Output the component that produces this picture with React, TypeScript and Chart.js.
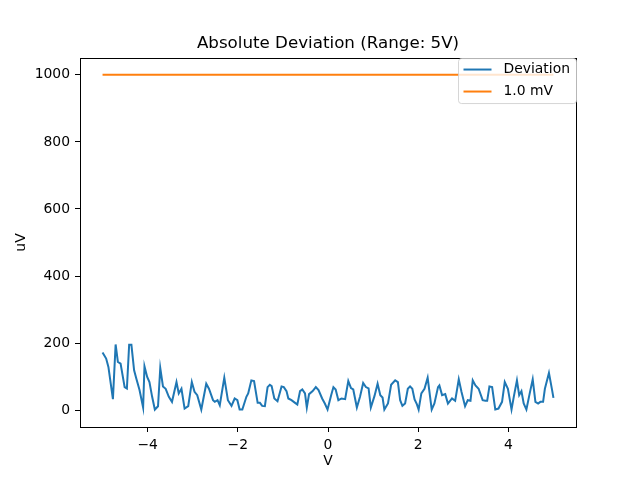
import React, { useEffect, useRef } from "react";
import { Chart, registerables } from "chart.js";

Chart.register(...registerables);

// Deviation curve (V -> uV)
const devX = [
  -5.0, -4.92, -4.87, -4.77, -4.71, -4.66, -4.6, -4.51, -4.46, -4.41, -4.36, -4.3, -4.25, -4.18,
  -4.1, -4.07, -4.01, -3.96, -3.9, -3.84, -3.77, -3.72, -3.66, -3.6, -3.53, -3.46, -3.36, -3.31,
  -3.25, -3.18, -3.1, -3.02, -2.96, -2.9, -2.81, -2.7, -2.64, -2.55, -2.51, -2.45, -2.4, -2.3,
  -2.22, -2.14, -2.07, -2.01, -1.96, -1.9, -1.81, -1.77, -1.7, -1.64, -1.56, -1.51, -1.46, -1.4,
  -1.34, -1.29, -1.25, -1.19, -1.12, -1.03, -0.98, -0.92, -0.88, -0.81, -0.73, -0.68, -0.62,
  -0.57, -0.51, -0.47, -0.42, -0.34, -0.27, -0.21, -0.13, -0.07, -0.01, 0.07, 0.12, 0.17, 0.23,
  0.3, 0.38, 0.45, 0.51, 0.56, 0.64, 0.71, 0.78, 0.84, 0.9, 0.95, 1.03, 1.1, 1.16, 1.21, 1.25,
  1.33, 1.4, 1.49, 1.55, 1.6, 1.65, 1.71, 1.77, 1.82, 1.87, 1.92, 1.97, 2.01, 2.07, 2.14, 2.21,
  2.25, 2.3, 2.36, 2.44, 2.47, 2.53, 2.6, 2.66, 2.75, 2.82, 2.9, 2.96, 3.04, 3.1, 3.16, 3.21,
  3.27, 3.34, 3.43, 3.49, 3.53, 3.58, 3.64, 3.71, 3.78, 3.86, 3.92, 3.99, 4.07, 4.12, 4.19,
  4.24, 4.29, 4.34, 4.4, 4.47, 4.54, 4.6, 4.66, 4.71, 4.77, 4.81, 4.9, 4.97, 5.0,
];
const devY = [
  172, 154, 129, 33, 196, 144, 139, 69, 65, 195, 195, 119, 94, 60,
  8, 131, 99, 84, 40, 2, 12, 126, 71, 64, 40, 25, 84, 50,
  64, 5, 12, 84, 55, 45, 2, 79, 64, 30, 25, 30, 15, 97,
  30, 13, 35, 30, 2, 2, 40, 50, 89, 87, 22, 22, 13, 12,
  69, 76, 72, 35, 27, 71, 69, 57, 35, 30, 22, 17, 57,
  62, 50, 8, 48, 57, 69, 60, 35, 20, 2, 45, 69, 62, 30,
  35, 33, 87, 66, 62, 8, 40, 81, 69, 65, 8, 42, 79, 45, 38, 2,
  20, 76, 89, 84, 30, 13, 20, 64, 71, 64, 32, 18, 2, 50, 64, 97,
  55, 2, 20, 69, 74, 45, 48, 20, 35, 28, 92, 55, 12, 30, 28, 89,
  74, 64, 30, 28, 28, 71, 69, 2, 5, 25, 84, 64, 2, 40, 89,
  45, 57, 20, 2, 48, 92, 25, 20, 25, 25, 64, 111, 60, 37,
];

// 1.0 mV reference level
const limitX = [-5, 5];
const limitY = [1000, 1000];

const xTicks = [-4, -2, 0, 2, 4];
const yTicks = [0, 200, 400, 600, 800, 1000];

const FONT = "'DejaVu Sans', sans-serif";

// black box round the axes, like matplotlib spines
const framePlugin = {
  id: "frame",
  afterDatasetsDraw(chart: any) {
    const { ctx, chartArea } = chart;
    ctx.save();
    ctx.strokeStyle = "#000";
    ctx.lineWidth = 1;
    ctx.strokeRect(
      Math.round(chartArea.left) + 0.5,
      Math.round(chartArea.top) + 0.5,
      Math.round(chartArea.right - chartArea.left),
      Math.round(chartArea.bottom - chartArea.top)
    );
    ctx.restore();
  },
};

// legend in the upper right corner of the plot area
const legendPlugin = {
  id: "mplLegend",
  afterDraw(chart: any) {
    const { ctx, chartArea } = chart;
    const w = 118;
    const h = 45;
    const x0 = chartArea.right - w + 0.5;
    const y0 = chartArea.top + 0.5;
    ctx.save();
    ctx.beginPath();
    ctx.roundRect(x0, y0, w, h, 3);
    ctx.fillStyle = "rgba(255,255,255,0.8)";
    ctx.fill();
    ctx.strokeStyle = "rgba(204,204,204,0.8)";
    ctx.lineWidth = 1;
    ctx.stroke();
    ctx.font = `13.9px ${FONT}`;
    ctx.textBaseline = "middle";
    chart.data.datasets.forEach((ds: any, i: number) => {
      const y = y0 + 11 + i * 22;
      ctx.beginPath();
      ctx.strokeStyle = ds.borderColor;
      ctx.lineWidth = 2;
      ctx.moveTo(x0 + 5, y);
      ctx.lineTo(x0 + 33, y);
      ctx.stroke();
      ctx.fillStyle = "#000";
      ctx.fillText(ds.label, x0 + 45, y);
    });
    ctx.restore();
  },
};

const minus = (v: number) => String(v).replace("-", "\u2212");

const App: React.FC = () => {
  const canvasRef = useRef<HTMLCanvasElement>(null);
  const chartRef = useRef<Chart | null>(null);

  useEffect(() => {
    document.body.style.margin = "0";
    if (!canvasRef.current) return;
    if (chartRef.current) chartRef.current.destroy();

    chartRef.current = new Chart(canvasRef.current, {
      type: "line",
      data: {
        datasets: [
          {
            label: "Deviation",
            data: devX.map((x, i) => ({ x, y: devY[i] })),
            borderColor: "#1f77b4",
            borderWidth: 2,
            pointRadius: 0,
            tension: 0,
          },
          {
            label: "1.0 mV",
            data: limitX.map((x, i) => ({ x, y: limitY[i] })),
            borderColor: "#ff7f0e",
            borderWidth: 2,
            pointRadius: 0,
          },
        ],
      },
      options: {
        responsive: true,
        maintainAspectRatio: false,
        animation: false,
        layout: { padding: { top: 0, right: 64, bottom: 0, left: 0 } },
        plugins: {
          legend: { display: false },
          tooltip: { enabled: false },
          title: {
            display: true,
            text: "Absolute Deviation (Range: 5V)",
            fullSize: false,
            color: "#000",
            font: { family: FONT, size: 16.7, weight: "normal" },
            padding: { top: 34, bottom: 4 },
          },
        },
        scales: {
          x: {
            type: "linear",
            min: -5.5,
            max: 5.5,
            afterBuildTicks: (s: any) => {
              s.ticks = xTicks.map((v) => ({ value: v }));
            },
            afterFit: (s: any) => {
              s.height = 53;
            },
            grid: { drawOnChartArea: false, drawTicks: true, tickLength: 5, color: "#000" },
            border: { display: false },
            ticks: {
              color: "#000",
              padding: 5,
              maxRotation: 0,
              font: { family: FONT, size: 13.9 },
              callback: (v: any) => minus(v),
            },
            title: {
              display: true,
              text: "V",
              color: "#000",
              font: { family: FONT, size: 13.9 },
              padding: { top: 0, bottom: 10 },
            },
          },
          y: {
            min: -50,
            max: 1050,
            afterBuildTicks: (s: any) => {
              s.ticks = yTicks.map((v) => ({ value: v }));
            },
            afterFit: (s: any) => {
              s.width = 80;
            },
            grid: { drawOnChartArea: false, drawTicks: true, tickLength: 5, color: "#000" },
            border: { display: false },
            ticks: {
              color: "#000",
              padding: 5,
              font: { family: FONT, size: 13.9 },
              callback: (v: any) => minus(v),
            },
            title: {
              display: true,
              text: "uV",
              color: "#000",
              font: { family: FONT, size: 13.9 },
              padding: { top: 13, bottom: 0 },
            },
          },
        },
      },
      plugins: [framePlugin, legendPlugin],
    });

    return () => {
      chartRef.current?.destroy();
      chartRef.current = null;
    };
  }, []);

  return (
    <div style={{ position: "relative", width: 640, height: 480, background: "#fff" }}>
      <canvas ref={canvasRef} />
    </div>
  );
};

export default App;
